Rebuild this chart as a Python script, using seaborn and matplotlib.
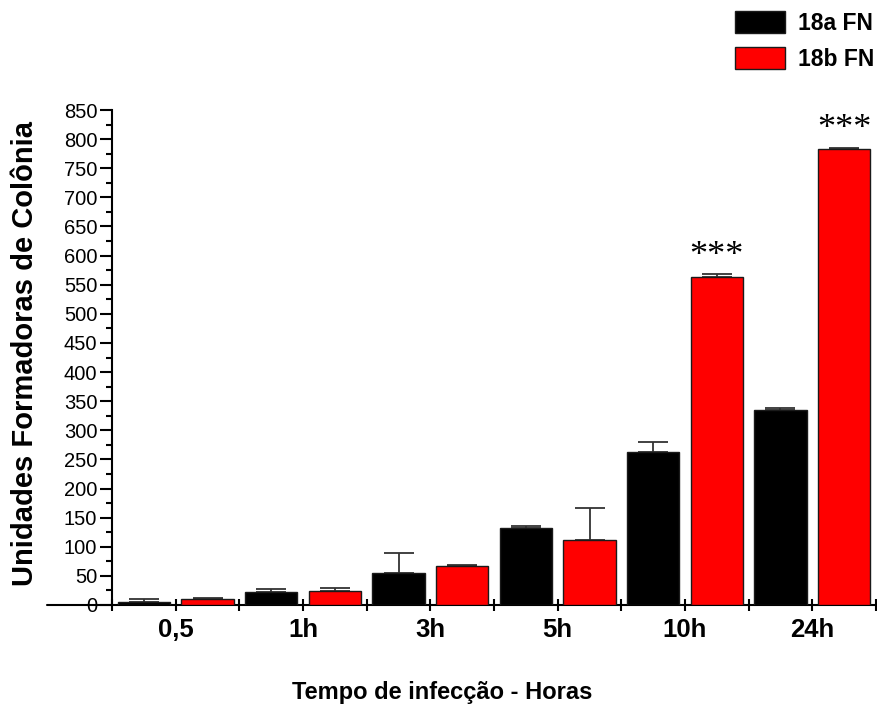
import numpy as np
import pandas as pd
import matplotlib
matplotlib.use("Agg")
import matplotlib.pyplot as plt
from matplotlib.ticker import FixedLocator, FixedFormatter, MultipleLocator
import seaborn as sns

# Colony counts per infection time for the two strains
tempos = ["0,5", "1h", "3h", "5h", "10h", "24h"]
series = ["18a FN", "18b FN"]
media_18a = [5, 22, 55, 132, 263, 335]
media_18b = [10, 24, 67, 111, 563, 783]
erro_18a = [5, 6, 34, 3, 17, 2.5]
erro_18b = [2.5, 5, 2.5, 55, 5, 2.5]
signif_18b = ["", "", "", "", "***", "***"]

df = pd.DataFrame({
    "tempo": tempos * 2,
    "serie": [series[0]] * len(tempos) + [series[1]] * len(tempos),
    "valor": media_18a + media_18b,
})

sns.set_style("ticks")
plt.rcParams["font.family"] = ["Liberation Sans", "DejaVu Sans"]
plt.rcParams["text.color"] = "black"
plt.rcParams["xtick.color"] = "black"
plt.rcParams["ytick.color"] = "black"

W, H = 877, 709
fig = plt.figure(figsize=(W / 100, H / 100), dpi=100)
ax = fig.add_axes([112 / W, 1 - 605 / H, 764 / W, 495 / H])

sns.barplot(data=df, x="tempo", y="valor", hue="serie", order=tempos,
            hue_order=series, palette=["black", "#ff0000"], saturation=1,
            width=1.0, gap=0.18, errorbar=None, edgecolor="#1a1a1a",
            linewidth=1.0, ax=ax, zorder=3)

# upward-only error bars on each bar
offs = {series[0]: -0.25, series[1]: 0.25}
for s, med, err in [(series[0], media_18a, erro_18a), (series[1], media_18b, erro_18b)]:
    xs = np.arange(len(tempos)) + offs[s]
    ax.errorbar(xs, med, yerr=[np.zeros(len(err)), err], fmt="none",
                ecolor="#333333", elinewidth=1.3, capsize=11, capthick=1.3,
                zorder=2)

# significance marks above the 18b bars
for i, (txt, med, err) in enumerate(zip(signif_18b, media_18b, erro_18b)):
    if txt:
        ax.annotate(txt, (i + 0.25, med + err), xytext=(0, 1),
                    textcoords="offset points", ha="center", va="bottom",
                    fontsize=26, family=["Liberation Serif", "DejaVu Serif"])

ax.set_xlim(-0.5, 5.5)
ax.set_ylim(0, 850)
ax.set_xlabel("")
ax.set_ylabel("")

# y axis: labelled every 50, minor every 25
ax.yaxis.set_major_locator(MultipleLocator(50))
ax.yaxis.set_minor_locator(MultipleLocator(25))
ax.tick_params(axis="y", which="major", direction="out", length=8.6,
               width=1.5, labelsize=14.5, pad=2, color="black",
               labelcolor="black")
ax.tick_params(axis="y", which="minor", direction="out", length=4.3,
               width=1.5, color="black")

# x axis: ticks at every bar boundary, labels at group centres
bords = np.arange(-0.5, 5.51, 0.5)
rotulos = [tempos[int(b)] if float(b).is_integer() else "" for b in bords]
ax.xaxis.set_major_locator(FixedLocator(bords))
ax.xaxis.set_major_formatter(FixedFormatter(rotulos))
ax.xaxis.set_minor_locator(FixedLocator(np.arange(-0.25, 5.3, 0.5)))
ax.tick_params(axis="x", which="major", direction="inout", length=8.6,
               width=1.5, labelsize=18.5, pad=5, color="black",
               labelcolor="black")
ax.tick_params(axis="x", which="minor", direction="in", length=3,
               width=1.2, color="black")
for lbl in ax.get_xticklabels():
    lbl.set_fontweight("bold")

for side in ["top", "right"]:
    ax.spines[side].set_visible(False)
for side in ["left", "bottom"]:
    ax.spines[side].set_linewidth(1.5)
    ax.spines[side].set_color("black")

# baseline continues past the y axis
ax.plot([-0.085, 0], [0, 0], transform=ax.get_yaxis_transform(),
        color="black", lw=1.5, clip_on=False, zorder=5)

handles, labels = ax.get_legend_handles_labels()
if ax.legend_:
    ax.legend_.remove()
fig.legend(handles, labels, loc="upper left",
           bbox_to_anchor=(735 / W, 1 - 11 / H), frameon=False,
           borderpad=0, borderaxespad=0, handlelength=2.2,
           handleheight=1.1, handletextpad=0.55, labelspacing=0.55,
           prop={"weight": "bold", "size": 16.5})

fig.text(442 / W, 1 - 693 / H, "Tempo de infecção - Horas", ha="center",
         va="center", fontsize=17, fontweight="bold")
fig.text(25 / W, 1 - 354 / H, "Unidades Formadoras de Colônia", ha="center",
         va="center", rotation=90, fontsize=21, fontweight="bold")

fig.savefig("out.png", dpi=100)
